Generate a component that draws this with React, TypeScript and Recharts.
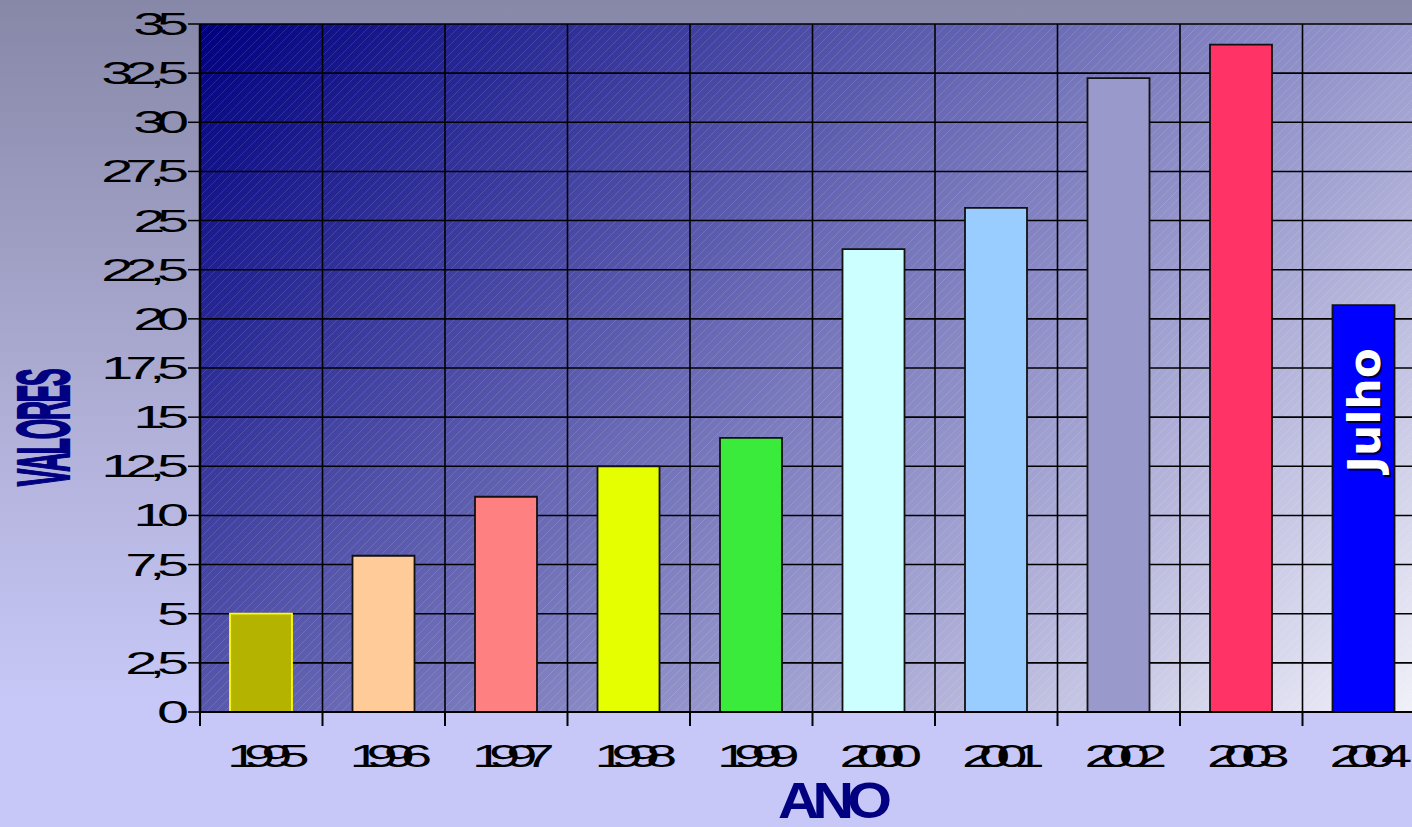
import React from 'react';
import { BarChart, Bar, XAxis, YAxis, CartesianGrid, Cell, LabelList } from 'recharts';

const years = ['1995', '1996', '1997', '1998', '1999', '2000', '2001', '2002', '2003', '2004'];
const values = [5, 7.95, 10.95, 12.5, 13.95, 23.55, 25.65, 32.25, 33.95, 20.7];
const barNotes = ['', '', '', '', '', '', '', '', '', 'Julho'];
const barFills = ['#B3B300', '#FFCC99', '#FF8080', '#E6FF00', '#3BEB3B', '#CCFFFF', '#99CCFF', '#9999CC', '#FF3366', '#0000FF'];
const barStrokes = ['#FFFF00', '#111', '#111', '#111', '#111', '#111', '#111', '#111', '#111', '#111'];
const yTicks = [0, 2.5, 5, 7.5, 10, 12.5, 15, 17.5, 20, 22.5, 25, 27.5, 30, 32.5, 35];
const yTickLabels = ['0', '2,5', '5', '7,5', '10', '12,5', '15', '17,5', '20', '22,5', '25', '27,5', '30', '32,5', '35'];
const yAxisTitle = 'VALORES';
const xAxisTitle = 'ANO';

const data = years.map((year, i) => ({ year, value: values[i], note: barNotes[i] }));

const CHART_W = 1430;
const CHART_H = 827;
const MARGIN = { top: 24, right: 5, left: 0, bottom: 0 };
const Y_AXIS_W = 200;
const X_AXIS_H = 115;
const PLOT_W = CHART_W - MARGIN.right - Y_AXIS_W;
const PLOT_H = CHART_H - MARGIN.top - X_AXIS_H;
const BAND = PLOT_W / years.length;
const DIAG = (PLOT_W + PLOT_H) / 2;

const tickFont = "'Liberation Sans', Arial, sans-serif";

const YTick = (props: any) => {
  const { x, y, payload } = props;
  const idx = yTicks.indexOf(payload.value);
  const label = idx >= 0 ? yTickLabels[idx] : String(payload.value);
  const sx = 1.8;
  return (
    <g transform={`translate(${x - 5},${y})`}>
      <text
        transform={`scale(${sx},1)`}
        x={0}
        y={0}
        dy={11}
        textAnchor="end"
        fontFamily={tickFont}
        fontSize={32}
        letterSpacing={-4.5}
        fill="#000"
      >
        {label}
      </text>
    </g>
  );
};

const XTick = (props: any) => {
  const { x, y, payload } = props;
  const sx = 1.75;
  return (
    <g transform={`translate(${x},${y})`}>
      <line x1={-BAND / 2} y1={0} x2={-BAND / 2} y2={14} stroke="#000" strokeWidth={2} />
      <text
        transform={`scale(${sx},1)`}
        x={0}
        y={55}
        textAnchor="middle"
        fontFamily={tickFont}
        fontSize={32}
        letterSpacing={-8}
        fill="#000"
      >
        {payload.value}
      </text>
    </g>
  );
};

const renderYTitle = (props: any) => {
  const vb = props.viewBox || { x: 0, y: MARGIN.top, width: Y_AXIS_W, height: PLOT_H };
  const cx = vb.x + 43;
  const cy = vb.y + vb.height / 2 + 60;
  return (
    <text
      transform={`translate(${cx},${cy}) rotate(-90) scale(0.66,1.85)`}
      x={0}
      y={0}
      dy={14}
      textAnchor="middle"
      fontFamily={tickFont}
      fontWeight="bold"
      fontSize={40}
      letterSpacing={-2}
      fill="#000080"
      stroke="#000080"
      strokeWidth={1.2}
    >
      {yAxisTitle}
    </text>
  );
};

const renderXTitle = (props: any) => {
  const vb = props.viewBox || { x: Y_AXIS_W, y: MARGIN.top + PLOT_H, width: PLOT_W, height: X_AXIS_H };
  const cx = vb.x + vb.width / 2 + 19;
  return (
    <g transform={`translate(${cx},${vb.y + 106}) scale(1.15,1)`}>
      <text
        x={0}
        y={0}
        textAnchor="middle"
        fontFamily={tickFont}
        fontWeight="bold"
        fontSize={50}
        letterSpacing={-6}
        fill="#000080"
      >
        {xAxisTitle}
      </text>
    </g>
  );
};

const renderNote = (props: any) => {
  const { x, y, width, value } = props;
  if (!value) return null;
  const ax = Number(x) + Number(width) / 2 + 16;
  const ay = Number(y) + 43;
  const font = "'DejaVu Sans', Verdana, sans-serif";
  return (
    <g>
      <text
        transform={`translate(${ax + 2},${ay + 2}) rotate(-90)`}
        textAnchor="end"
        fontFamily={font}
        fontWeight="bold"
        fontSize={44}
        fill="#000033"
      >
        {value}
      </text>
      <text
        transform={`translate(${ax},${ay}) rotate(-90)`}
        textAnchor="end"
        fontFamily={font}
        fontWeight="bold"
        fontSize={44}
        fill="#FFFFFF"
      >
        {value}
      </text>
    </g>
  );
};

const verticalBoundaries = ({ offset }: any) => {
  const arr: number[] = [];
  for (let i = 0; i <= years.length; i++) arr.push(offset.left + (i * offset.width) / years.length);
  return arr;
};

export default function App() {
  return (
    <div
      style={{
        position: 'fixed',
        left: 0,
        top: 0,
        width: 1412,
        height: 827,
        overflow: 'hidden',
        background: 'linear-gradient(to bottom, #8787A8 0%, #ABABD2 45%, #C8C8F8 85%, #C8C8F8 100%)',
      }}
    >
      <BarChart width={CHART_W} height={CHART_H} data={data} margin={MARGIN} barSize={62}>
        <defs>
          <linearGradient
            id="plotBg"
            gradientUnits="userSpaceOnUse"
            x1={Y_AXIS_W}
            y1={MARGIN.top}
            x2={Y_AXIS_W + DIAG}
            y2={MARGIN.top + DIAG}
          >
            <stop offset="0%" stopColor="#000080" />
            <stop offset="100%" stopColor="#F2F2FA" />
          </linearGradient>
          <pattern id="hatch" patternUnits="userSpaceOnUse" width={9} height={9}>
            <path d="M0,9 L9,0 M-2,2 L2,-2 M7,11 L11,7" stroke="#FFFFFF" strokeWidth={1} strokeOpacity={0.12} />
          </pattern>
        </defs>
        <CartesianGrid fill="url(#plotBg)" fillOpacity={1} horizontal={false} vertical={false} />
        <CartesianGrid
          fill="url(#hatch)"
          fillOpacity={1}
          stroke="#000"
          strokeWidth={1.6}
          strokeDasharray=""
          verticalCoordinatesGenerator={verticalBoundaries}
        />
        <XAxis
          dataKey="year"
          height={X_AXIS_H}
          tickSize={0}
          tickMargin={0}
          tickLine={false}
          axisLine={{ stroke: '#000', strokeWidth: 2 }}
          tick={<XTick />}
          interval={0}
          label={{ content: renderXTitle }}
        />
        <YAxis
          width={Y_AXIS_W}
          domain={[0, 35]}
          ticks={yTicks}
          interval={0}
          tickSize={12}
          tickMargin={2}
          tickLine={{ stroke: '#000', strokeWidth: 1.5 }}
          axisLine={{ stroke: '#000', strokeWidth: 2.5 }}
          tick={<YTick />}
          label={{ content: renderYTitle }}
        />
        <Bar dataKey="value" isAnimationActive={false} strokeWidth={1.8}>
          {data.map((d, i) => (
            <Cell key={d.year} fill={barFills[i]} stroke={barStrokes[i]} />
          ))}
          <LabelList dataKey="note" content={renderNote} />
        </Bar>
      </BarChart>
    </div>
  );
}
